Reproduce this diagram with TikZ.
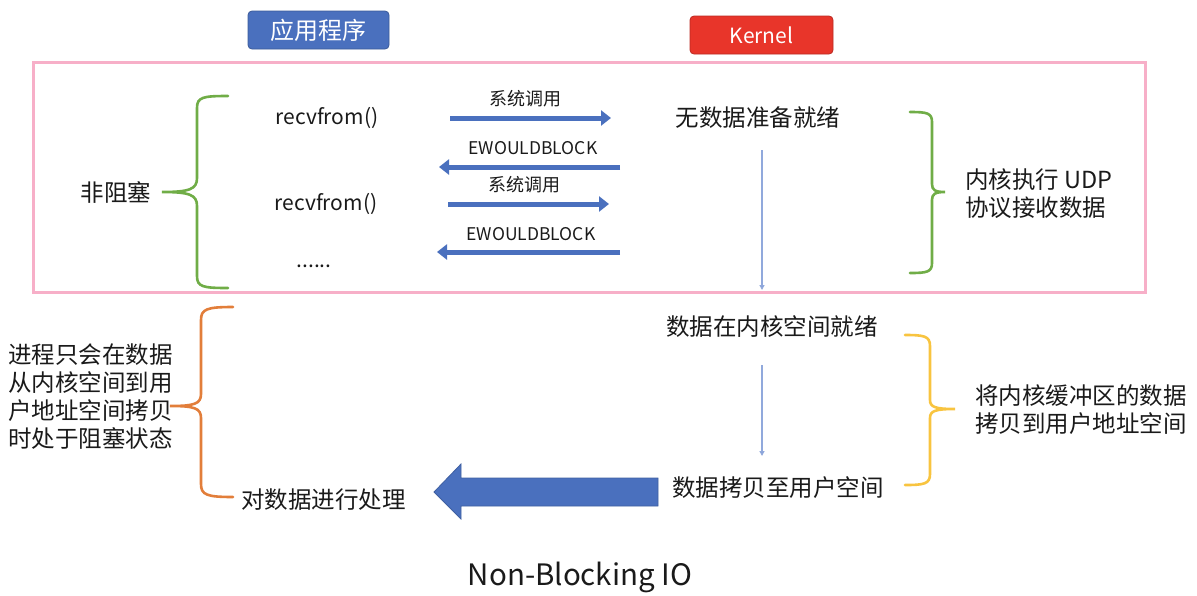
\documentclass[tikz,border=0pt]{standalone}
\usepackage{fontspec}
\setmainfont{Noto Sans CJK SC}
\usetikzlibrary{arrows.meta}
\definecolor{boxblue}{HTML}{4A70BE}
\definecolor{boxred}{HTML}{E8352A}
\definecolor{framepink}{HTML}{F7AFC8}
\definecolor{brgreen}{HTML}{70AD47}
\definecolor{brorange}{HTML}{E27E3A}
\definecolor{bryellow}{HTML}{F8C440}
\definecolor{thinblue}{HTML}{91A9DC}
\definecolor{txt}{HTML}{1A1A1A}
\tikzset{
  title/.style={rounded corners=4pt, draw=#1!80!black, line width=0.8pt, fill=#1, text=white, minimum height=38pt, font=\fontsize{21}{24}\selectfont},
  cn/.style={text=txt, font=\fontsize{23.5}{28}\selectfont, inner sep=0pt},
  small/.style={text=txt, font=\fontsize{18}{20}\selectfont, inner sep=0pt},
  fat/.style={draw=boxblue, line width=5pt, -{Triangle[length=10pt,width=15pt]}},
  thin/.style={draw=thinblue, line width=1.3pt, -{Triangle[length=5pt,width=5pt,fill=boxblue]}},
  brace/.style={line width=2.6pt, line cap=round}
}
\begin{document}
\begin{tikzpicture}[x=1pt,y=-1pt]
\useasboundingbox (0,0) rectangle (1197,595);
% title boxes
\node[title=boxblue, minimum width=141pt, font=\fontsize{24}{26}\selectfont] (app) at (318.5,30) {应用程序};
\node[title=boxred, minimum width=143pt] (kern) at (761.5,35) {Kernel};
% pink frame
\draw[framepink, line width=3pt] (33,62) rectangle (1145,292);
% left column
\node[cn] (nb) at (116,192) {非阻塞};
\node[cn, font=\fontsize{21}{24}\selectfont] (r1) at (327,118) {recvfrom()};
\node[cn, font=\fontsize{21}{24}\selectfont] (r2) at (326,204) {recvfrom()};
\node[cn, font=\fontsize{21}{24}\selectfont] (dots) at (314,266) {......};
% labels
\node[small] (l1) at (525,99) {系统调用};
\node[small, font=\fontsize{17.5}{20}\selectfont] (l2) at (533,148) {EWOULDBLOCK};
\node[small] (l3) at (524,185) {系统调用};
\node[small, font=\fontsize{17.5}{20}\selectfont] (l4) at (531,234) {EWOULDBLOCK};
% arrow endpoints
\coordinate (a1s) at (450,118); \coordinate (a1e) at (611,118);
\coordinate (a2s) at (620,167); \coordinate (a2e) at (439,167);
\coordinate (a3s) at (448,204); \coordinate (a3e) at (609,204);
\coordinate (a4s) at (620,252); \coordinate (a4e) at (437,252);
\draw[fat] (a1s) -- (a1e);
\draw[fat] (a2s) -- (a2e);
\draw[fat] (a3s) -- (a3e);
\draw[fat] (a4s) -- (a4e);
% kernel column
\node[cn] (k1) at (758,118) {无数据准备就绪};
\node[cn] (k2) at (772,327) {数据在内核空间就绪};
\node[cn] (k3) at (778,488) {数据拷贝至用户空间};
\coordinate (v1s) at (762,150); \coordinate (v1e) at (762,290);
\coordinate (v2s) at (762,365); \coordinate (v2e) at (762,456);
\draw[thin] (v1s) -- (v1e);
\draw[thin] (v2s) -- (v2e);
% right texts
\node[cn, align=left, anchor=west] (udp) at (965,194) {内核执行 UDP\\协议接收数据};
\node[cn, align=left, anchor=west] (cp) at (975,410) {将内核缓冲区的数据\\拷贝到用户地址空间};
% bottom-left texts
\node[cn, align=left, anchor=west] (blk) at (8,397) {进程只会在数据\\从内核空间到用\\户地址空间拷贝\\时处于阻塞状态};
\node[cn, anchor=west] (proc) at (241,500) {对数据进行处理};
% big arrow
\draw[boxblue!85!black, line width=0.8pt, fill=boxblue] (658,478) -- (461,478) -- (461,464) -- (434,492) -- (461,519) -- (461,506) -- (658,506) -- cycle;
% braces
\draw[brace, brgreen] (228,96) .. controls (203,96) and (197,97) .. (197,108) -- (197,178) .. controls (197,189) and (190,192) .. (162,192)
  .. controls (190,192) and (197,195) .. (197,206) -- (197,276) .. controls (197,287) and (203,288) .. (228,288);
\draw[brace, brgreen] (910,112) .. controls (927,112) and (932,113) .. (932,122) -- (932,184) .. controls (932,190) and (935,192) .. (945,192)
  .. controls (935,192) and (932,194) .. (932,200) -- (932,263) .. controls (932,272) and (927,273) .. (910,273);
\draw[brace, brorange] (233,307) .. controls (207,307) and (201,309) .. (201,320) -- (201,394) .. controls (201,404) and (194,406) .. (170,406)
  .. controls (194,406) and (201,408) .. (201,418) -- (201,484) .. controls (201,495) and (207,497) .. (233,497);
\draw[brace, bryellow] (905,335) .. controls (924,335) and (930,336) .. (930,346) -- (930,400) .. controls (930,407) and (935,409) .. (955,409)
  .. controls (935,409) and (930,411) .. (930,418) -- (930,474) .. controls (930,484) and (924,485) .. (905,485);
% caption
\node[cn, font=\fontsize{29.5}{32}\selectfont] (cap) at (580,577) {Non-Blocking IO};
\end{tikzpicture}
\end{document}
